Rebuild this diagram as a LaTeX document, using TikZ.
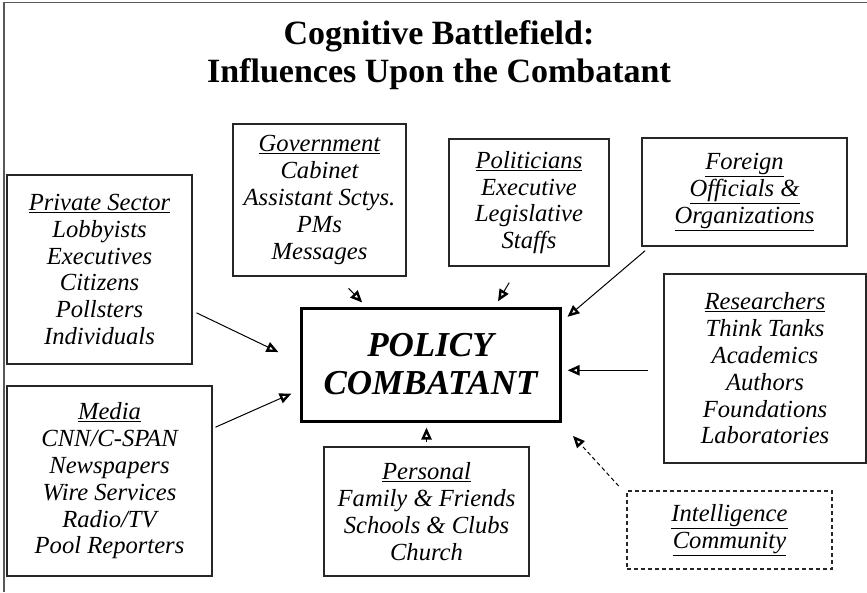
\documentclass[tikz,border=0pt]{standalone}
\usepackage{fontspec}
\setmainfont{Liberation Serif}
\usetikzlibrary{arrows.meta}

\begin{document}
\begin{tikzpicture}[x=1pt, y=-1pt,
                    box/.style = {draw=black!85, line width=1.1pt, align=center, inner sep=0pt,
                                  font=\fontsize{24.6}{26.8}\selectfont\itshape},
                    ttl/.style = {anchor=base, font=\fontsize{34}{38}\selectfont\bfseries},
                    arr/.style = {-{Triangle[open, length=12pt, width=10pt, line width=2.4pt]}, line width=1pt}]
\useasboundingbox (0,0) rectangle (867,592);
\draw[black!65, line width=1.5pt] (4,592) -- (4,2.5) -- (867,2.5);
\node[ttl] (ttl1) at (439,44) {Cognitive Battlefield:};
\node[ttl] (ttl2) at (439,82) {Influences Upon the Combatant};
\node[box, minimum width=185pt, minimum height=189pt] (psec) at (99.5,269.5)
    {\underline{Private Sector}\\Lobbyists\\Executives\\Citizens\\Pollsters\\Individuals};
\node[box, minimum width=173pt, minimum height=152pt] (govt) at (319.5,200)
    {\underline{Government}\\Cabinet\\Assistant Sctys.\\PMs\\Messages};
\node[box, minimum width=160pt, minimum height=127pt] (pol) at (529,202.5)
    {\underline{Politicians}\\Executive\\Legislative\\Staffs};
\node[box, minimum width=205pt, minimum height=108pt] (forgn) at (744.5,192)
    {\underline{Foreign}\\\underline{Officials \&}\\\underline{Organizations}};
\node[box, minimum width=202pt, minimum height=189pt] (res) at (765,368.5)
    {\underline{Researchers}\\Think Tanks\\Academics\\Authors\\Foundations\\Laboratories};
\node[box, draw=black, line width=3pt, minimum width=259pt, minimum height=113pt,
      font=\fontsize{35}{38}\selectfont\bfseries\itshape] (policy) at (430.5,364.5)
    {POLICY\\COMBATANT};
\node[box, minimum width=205pt, minimum height=190pt] (media) at (109.5,481)
    {\underline{Media}\\CNN/C-SPAN\\Newspapers\\Wire Services\\Radio/TV\\Pool Reporters};
\node[box, minimum width=205pt, minimum height=129pt] (pers) at (426.5,511.5)
    {\underline{Personal}\\Family \& Friends\\Schools \& Clubs\\Church};
\node[box, dash pattern=on 4pt off 3pt, minimum width=205pt, minimum height=78pt] (intel) at (729.5,530)
    {\underline{Intelligence}\\\underline{Community}};
\draw[arr, shorten <=4.4pt, shorten >=23.3pt] (psec.-24.7) -- (policy.179);
\draw[arr, shorten <=3.3pt, shorten >=8.7pt] (media.27) -- (policy.191.8);
\draw[arr, shorten <=16.4pt, shorten >=5.5pt] (govt.-77.2) -- (policy.138.45);
\draw[arr, shorten <=18.8pt, shorten >=5.9pt] (pol.-99) -- (policy.42.2);
\draw[arr, shorten <=6.4pt, shorten >=7.7pt] (forgn.210.8) -- (policy.18.25);
\draw[arr, shorten <=15pt, shorten >=6pt] (res.181) -- (res.181 -| policy.east);
\draw[arr, shorten <=4pt, shorten >=5pt] (pers.north) -- (pers.north |- policy.south);
\draw[arr, dash pattern=on 4pt off 3pt, shorten <=11.5pt, shorten >=18pt] (intel.161.8) -- (policy.-24.5);
\end{tikzpicture}
\end{document}
